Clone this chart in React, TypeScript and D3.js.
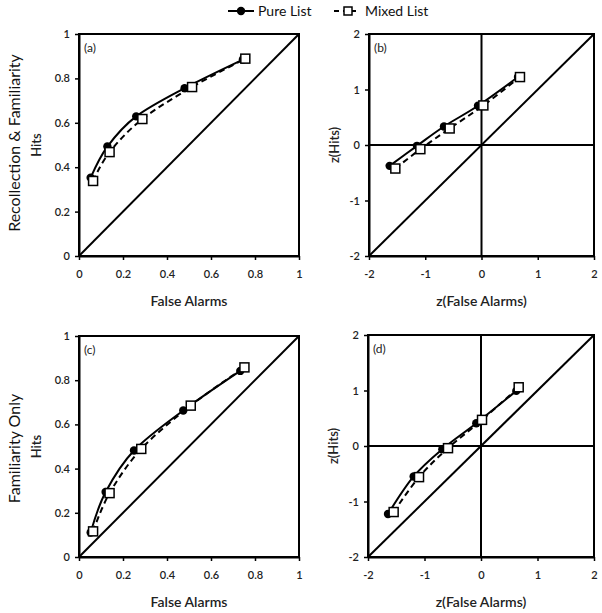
import React, { useEffect, useRef } from "react";
import * as d3 from "d3";

// ---------- data ----------
const seriesNames = ["Pure List", "Mixed List"];

// Panel (a): ROC, Recollection & Familiarity
const aPureFA = [0.053, 0.129, 0.26, 0.48, 0.745];
const aPureHit = [0.353, 0.493, 0.629, 0.756, 0.885];
const aMixedFA = [0.064, 0.139, 0.288, 0.514, 0.756];
const aMixedHit = [0.338, 0.468, 0.617, 0.761, 0.889];

// Panel (b): zROC, Recollection & Familiarity
const bPureZFA = [-1.633, -1.147, -0.667, -0.062, 0.649];
const bPureZHit = [-0.376, -0.015, 0.334, 0.707, 1.224];
const bMixedZFA = [-1.532, -1.087, -0.566, 0.033, 0.684];
const bMixedZHit = [-0.424, -0.075, 0.298, 0.713, 1.224];

// Panel (c): ROC, Familiarity Only
const cPureFA = [0.053, 0.121, 0.25, 0.474, 0.733];
const cPureHit = [0.111, 0.294, 0.482, 0.663, 0.842];
const cMixedFA = [0.064, 0.139, 0.283, 0.508, 0.752];
const cMixedHit = [0.116, 0.289, 0.489, 0.685, 0.858];

// Panel (d): zROC, Familiarity Only
const dPureZFA = [-1.646, -1.192, -0.684, -0.083, 0.625];
const dPureZHit = [-1.226, -0.549, -0.057, 0.411, 0.993];
const dMixedZFA = [-1.546, -1.097, -0.584, 0.018, 0.667];
const dMixedZHit = [-1.19, -0.561, -0.039, 0.471, 1.058];

const rocTicks = [0, 0.2, 0.4, 0.6, 0.8, 1];
const zTicks = [-2, -1, 0, 1, 2];
const rowLabels = ["Recollection & Familiarity", "Familiarity Only"];
const panelLetters = ["(a)", "(b)", "(c)", "(d)"];

const FONT = "Lato, 'Open Sans', sans-serif";

type Panel = {
  letter: string;
  box: { x0: number; x1: number; y0: number; y1: number };
  domain: [number, number];
  ticks: number[];
  fmt: (v: number) => string;
  xLabel: string;
  yLabel: string;
  z: boolean;
  pure: [number[], number[]];
  mixed: [number[], number[]];
};

const rocFmt = (v: number) => (v === 0 || v === 1 ? String(v) : d3.format(".1f")(v));
const zFmt = (v: number) => String(v);

const panels: Panel[] = [
  {
    letter: panelLetters[0],
    box: { x0: 79, x1: 299, y0: 34, y1: 256 },
    domain: [0, 1], ticks: rocTicks, fmt: rocFmt,
    xLabel: "False Alarms", yLabel: "Hits", z: false,
    pure: [aPureFA, aPureHit], mixed: [aMixedFA, aMixedHit],
  },
  {
    letter: panelLetters[1],
    box: { x0: 369, x1: 594, y0: 34, y1: 256 },
    domain: [-2, 2], ticks: zTicks, fmt: zFmt,
    xLabel: "z(False Alarms)", yLabel: "z(Hits)", z: true,
    pure: [bPureZFA, bPureZHit], mixed: [bMixedZFA, bMixedZHit],
  },
  {
    letter: panelLetters[2],
    box: { x0: 79, x1: 299, y0: 336, y1: 557 },
    domain: [0, 1], ticks: rocTicks, fmt: rocFmt,
    xLabel: "False Alarms", yLabel: "Hits", z: false,
    pure: [cPureFA, cPureHit], mixed: [cMixedFA, cMixedHit],
  },
  {
    letter: panelLetters[3],
    box: { x0: 368, x1: 594, y0: 335, y1: 557 },
    domain: [-2, 2], ticks: zTicks, fmt: zFmt,
    xLabel: "z(False Alarms)", yLabel: "z(Hits)", z: true,
    pure: [dPureZFA, dPureZHit], mixed: [dMixedZFA, dMixedZHit],
  },
];

export default function App() {
  const ref = useRef<SVGSVGElement | null>(null);

  useEffect(() => {
    const svg = d3.select(ref.current);
    svg.selectAll("*").remove();

    panels.forEach((p) => {
      const { x0, x1, y0, y1 } = p.box;
      const x = d3.scaleLinear().domain(p.domain).range([x0, x1]);
      const y = d3.scaleLinear().domain(p.domain).range([y1, y0]);
      const g = svg.append("g");

      // frame
      g.append("rect")
        .attr("x", x0).attr("y", y0)
        .attr("width", x1 - x0).attr("height", y1 - y0)
        .attr("fill", "none").attr("stroke", "#000").attr("stroke-width", 2);

      // zero lines for z plots
      if (p.z) {
        g.append("line").attr("x1", x(0)).attr("x2", x(0)).attr("y1", y0).attr("y2", y1)
          .attr("stroke", "#000").attr("stroke-width", 2);
        g.append("line").attr("x1", x0).attr("x2", x1).attr("y1", y(0)).attr("y2", y(0))
          .attr("stroke", "#000").attr("stroke-width", 2);
      }

      // diagonal
      g.append("line")
        .attr("x1", x(p.domain[0])).attr("y1", y(p.domain[0]))
        .attr("x2", x(p.domain[1])).attr("y2", y(p.domain[1]))
        .attr("stroke", "#000").attr("stroke-width", 2);

      // axes
      const xa = g.append("g").attr("transform", `translate(0,${y1})`)
        .call(d3.axisBottom(x).tickValues(p.ticks).tickFormat(p.fmt as any).tickSize(4).tickSizeOuter(0).tickPadding(10));
      const ya = g.append("g").attr("transform", `translate(${x0},0)`)
        .call(d3.axisLeft(y).tickValues(p.ticks).tickFormat(p.fmt as any).tickSize(4).tickSizeOuter(0).tickPadding(5));
      [xa, ya].forEach((a) => {
        a.select(".domain").attr("stroke-width", 2);
        a.selectAll(".tick line").attr("stroke-width", 1.5);
        a.selectAll(".tick text")
          .attr("font-family", FONT).attr("font-size", 11).attr("font-weight", 600).attr("fill", "#222");
      });

      // axis titles
      g.append("text")
        .attr("x", (x0 + x1) / 2).attr("y", y1 + 50)
        .attr("text-anchor", "middle").attr("font-family", FONT).attr("font-size", 14)
        .attr("font-weight", 600).attr("fill", "#222")
        .text(p.xLabel);
      const ylx = p.z ? x0 - 35 : x0 - 43;
      g.append("text")
        .attr("transform", `translate(${ylx},${(y0 + y1) / 2}) rotate(-90)`)
        .attr("text-anchor", "middle").attr("dominant-baseline", "central")
        .attr("font-family", FONT).attr("font-size", 13).attr("font-weight", 600).attr("fill", "#222")
        .text(p.yLabel);

      // panel letter
      g.append("text")
        .attr("x", x0 + 5).attr("y", y0 + 18)
        .attr("font-family", FONT).attr("font-size", 12).attr("fill", "#222")
        .text(p.letter);

      const line = d3.line<number>()
        .x((_, i) => 0)
        .curve(d3.curveCatmullRom.alpha(0));

      const mk = (xs: number[], ys: number[]) =>
        d3.line<number>()
          .x((i) => x(xs[i]))
          .y((i) => y(ys[i]))
          .curve(d3.curveCatmullRom.alpha(0))(d3.range(xs.length));
      void line;

      // pure series
      g.append("path").attr("d", mk(p.pure[0], p.pure[1]) || "")
        .attr("fill", "none").attr("stroke", "#000").attr("stroke-width", 2);
      g.selectAll(null).data(d3.range(p.pure[0].length)).enter().append("circle")
        .attr("cx", (i) => x(p.pure[0][i])).attr("cy", (i) => y(p.pure[1][i]))
        .attr("r", 4.2).attr("fill", "#000");

      // mixed series
      g.append("path").attr("d", mk(p.mixed[0], p.mixed[1]) || "")
        .attr("fill", "none").attr("stroke", "#000").attr("stroke-width", 2)
        .attr("stroke-dasharray", "6,4");
      const s = 9;
      g.selectAll(null).data(d3.range(p.mixed[0].length)).enter().append("rect")
        .attr("x", (i) => x(p.mixed[0][i]) - s / 2).attr("y", (i) => y(p.mixed[1][i]) - s / 2)
        .attr("width", s).attr("height", s)
        .attr("fill", "#fff").attr("stroke", "#000").attr("stroke-width", 1.5);
    });

    // row labels
    const rowCenters = [(34 + 256) / 2 - 2, (336 + 557) / 2 + 2];
    rowLabels.forEach((t, i) => {
      svg.append("text")
        .attr("transform", `translate(13,${rowCenters[i]}) rotate(-90)`)
        .attr("text-anchor", "middle").attr("dominant-baseline", "central")
        .attr("font-family", FONT).attr("font-size", 16).attr("fill", "#111")
        .text(t);
    });

    // legend
    const lg = svg.append("g");
    // Pure
    lg.append("line").attr("x1", 228).attr("x2", 254).attr("y1", 11).attr("y2", 11)
      .attr("stroke", "#000").attr("stroke-width", 2);
    lg.append("circle").attr("cx", 241).attr("cy", 11).attr("r", 4.2).attr("fill", "#000");
    lg.append("text").attr("x", 258).attr("y", 16)
      .attr("font-family", FONT).attr("font-size", 14).attr("fill", "#111").text(seriesNames[0]);
    // Mixed
    lg.append("line").attr("x1", 334).attr("x2", 356).attr("y1", 11).attr("y2", 11)
      .attr("stroke", "#000").attr("stroke-width", 2).attr("stroke-dasharray", "5,4");
    lg.append("rect").attr("x", 344).attr("y", 7).attr("width", 8).attr("height", 8)
      .attr("fill", "#fff").attr("stroke", "#000").attr("stroke-width", 1.5);
    lg.append("text").attr("x", 365).attr("y", 16)
      .attr("font-family", FONT).attr("font-size", 14).attr("fill", "#111").text(seriesNames[1]);
  }, []);

  return (
    <svg
      ref={ref}
      width={602}
      height={613}
      style={{ position: "absolute", left: 0, top: 0, background: "#fff" }}
    />
  );
}
